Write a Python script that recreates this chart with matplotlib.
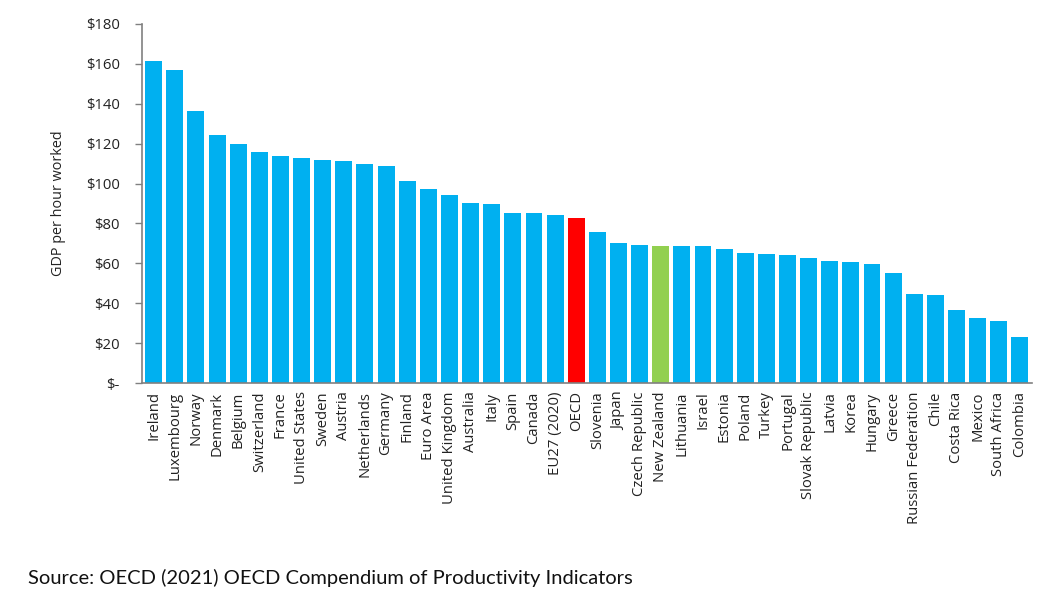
import matplotlib

matplotlib.use("Agg")
import matplotlib.pyplot as plt
from matplotlib.ticker import FuncFormatter

countries = [
    "Ireland", "Luxembourg", "Norway", "Denmark", "Belgium", "Switzerland",
    "France", "United States", "Sweden", "Austria", "Netherlands", "Germany",
    "Finland", "Euro Area", "United Kingdom", "Australia", "Italy", "Spain",
    "Canada", "EU27 (2020)", "OECD", "Slovenia", "Japan", "Czech Republic",
    "New Zealand", "Lithuania", "Israel", "Estonia", "Poland", "Turkey",
    "Portugal", "Slovak Republic", "Latvia", "Korea", "Hungary", "Greece",
    "Russian Federation", "Chile", "Costa Rica", "Mexico", "South Africa",
    "Colombia",
]
gdp_per_hour = [
    161.2, 157.0, 136.6, 124.1, 119.6, 115.9,
    113.9, 112.9, 111.9, 111.4, 109.9, 108.9,
    101.3, 97.5, 94.2, 90.2, 89.7, 85.2,
    85.2, 84.0, 82.5, 75.5, 70.3, 69.3,
    68.8, 68.8, 68.8, 67.3, 65.3, 64.8,
    64.3, 62.8, 61.3, 60.8, 59.8, 55.1,
    44.6, 44.1, 36.4, 32.4, 30.9, 22.9,
]
y_ticks = [0, 20, 40, 60, 80, 100, 120, 140, 160, 180]

BLUE = "#00B0F0"
HIGHLIGHT = {"OECD": "#FF0000", "New Zealand": "#92D050"}
AXIS_GREY = "#808080"


def main() -> None:
    plt.rcParams["font.family"] = ["Open Sans", "DejaVu Sans"]
    fig = plt.figure(figsize=(10.64, 6.10), dpi=100)
    ax = fig.add_axes([0.1335, 0.372, 0.836, 0.5887])

    colors = [HIGHLIGHT.get(c, BLUE) for c in countries]
    x = list(range(len(countries)))
    ax.bar(x, gdp_per_hour, width=0.8, color=colors)

    ax.set_xlim(-0.55, len(countries) - 0.45)
    ax.set_ylim(0, 180)
    ax.set_yticks(y_ticks)
    ax.yaxis.set_major_formatter(
        FuncFormatter(lambda v, _: "$-" if v == 0 else f"${v:.0f}")
    )
    ax.set_xticks(x)
    ax.set_xticklabels(countries, rotation=90, fontsize=10.7, color="#222222")
    ax.tick_params(axis="x", length=0, pad=6)
    ax.tick_params(axis="y", length=5, width=1, color=AXIS_GREY,
                   labelsize=10.7, labelcolor="#222222", pad=11)

    for side in ("top", "right"):
        ax.spines[side].set_visible(False)
    for side in ("left", "bottom"):
        ax.spines[side].set_color(AXIS_GREY)
        ax.spines[side].set_linewidth(1.2)

    ax.set_ylabel("GDP per hour worked", fontsize=10.4, color="#222222", labelpad=14)

    fig.text(0.026, 0.042, "Source: OECD (2021) OECD Compendium of Productivity Indicators",
             fontsize=14.5, family=["Lato", "DejaVu Sans"], color="#111111")

    fig.savefig("out.png", dpi=100)
    plt.close(fig)


if __name__ == "__main__":
    main()
